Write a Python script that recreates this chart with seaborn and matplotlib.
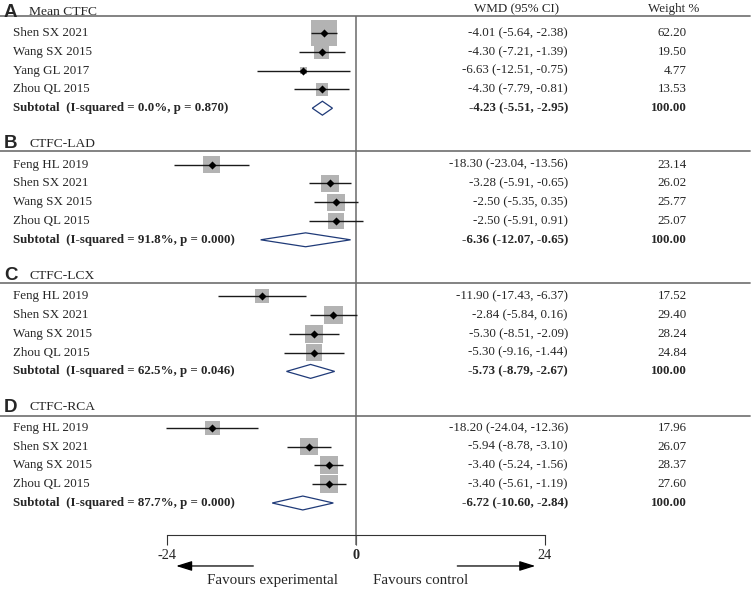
import numpy as np
import pandas as pd
import matplotlib
matplotlib.use("Agg")
import matplotlib.pyplot as plt
import seaborn as sns
from matplotlib.patches import Polygon
from matplotlib.transforms import blended_transform_factory

# ---------------- data ----------------
panel_letters = ["A", "B", "C", "D"]
panel_titles = ["Mean CTFC", "CTFC-LAD", "CTFC-LCX", "CTFC-RCA"]
study_names = [
    ["Shen SX 2021", "Wang SX 2015", "Yang GL 2017", "Zhou QL 2015"],
    ["Feng HL 2019", "Shen SX 2021", "Wang SX 2015", "Zhou QL 2015"],
    ["Feng HL 2019", "Shen SX 2021", "Wang SX 2015", "Zhou QL 2015"],
    ["Feng HL 2019", "Shen SX 2021", "Wang SX 2015", "Zhou QL 2015"],
]
wmd = [
    [-4.01, -4.30, -6.63, -4.30],
    [-18.30, -3.28, -2.50, -2.50],
    [-11.90, -2.84, -5.30, -5.30],
    [-18.20, -5.94, -3.40, -3.40],
]
ci_low = [
    [-5.64, -7.21, -12.51, -7.79],
    [-23.04, -5.91, -5.35, -5.91],
    [-17.43, -5.84, -8.51, -9.16],
    [-24.04, -8.78, -5.24, -5.61],
]
ci_high = [
    [-2.38, -1.39, -0.75, -0.81],
    [-13.56, -0.65, 0.35, 0.91],
    [-6.37, 0.16, -2.09, -1.44],
    [-12.36, -3.10, -1.56, -1.19],
]
weights = [
    [62.20, 19.50, 4.77, 13.53],
    [23.14, 26.02, 25.77, 25.07],
    [17.52, 29.40, 28.24, 24.84],
    [17.96, 26.07, 28.37, 27.60],
]
sub_wmd = [-4.23, -6.36, -5.73, -6.72]
sub_low = [-5.51, -12.07, -8.79, -10.60]
sub_high = [-2.95, -0.65, -2.67, -2.84]
i_squared = ["0.0", "91.8", "62.5", "87.7"]
p_values = ["0.870", "0.000", "0.046", "0.000"]
x_ticks = [-24, 0, 24]
x_tick_labels = ["-24", "0", "24"]

# ---------------- table ----------------
recs = []
for p in range(4):
    for i in range(4):
        recs.append(dict(panel=p, row=7 * p + 1 + i, study=study_names[p][i],
                         wmd=wmd[p][i], lo=ci_low[p][i], hi=ci_high[p][i],
                         weight=weights[p][i]))
df = pd.DataFrame(recs)
sub = pd.DataFrame(dict(panel=range(4), row=[7 * p + 5 for p in range(4)],
                        wmd=sub_wmd, lo=sub_low, hi=sub_high))

# ---------------- figure ----------------
sns.set_theme(style="white")
plt.rcParams["font.family"] = ["Liberation Serif", "DejaVu Serif"]

W, H = 754, 591
fig = plt.figure(figsize=(W / 100, H / 100), dpi=100)
ax = fig.add_axes([0, 0, 1, 1])
ax.set_facecolor("white")

x0_px, px_per_unit = 355.7, 7.875
y0_px, px_per_row = 14.2, 18.8
xlim = ((0 - x0_px) / px_per_unit, (W - x0_px) / px_per_unit)
ylim = ((H - y0_px) / px_per_row, (0 - y0_px) / px_per_row)

tb = blended_transform_factory(ax.transAxes, ax.transData)
FS = 9.4
FSB = 9.3

# weight squares
sns.scatterplot(data=df, x="wmd", y="row", size="weight", sizes=(0, 594),
                size_norm=(0, 100), marker="s", color="#b3b3b3",
                edgecolor="none", linewidth=0, legend=False, ax=ax, zorder=2)
# CI lines
ax.hlines(df["row"], df["lo"], df["hi"], color="#1a1a1a", lw=1.0, zorder=3)
# point estimates
sns.scatterplot(data=df, x="wmd", y="row", marker="D", s=17, color="black",
                edgecolor="black", linewidth=0, legend=False, ax=ax, zorder=4)

# subtotal diamonds
for _, r in sub.iterrows():
    h = 0.37
    poly = Polygon([(r.lo, r.row), (r.wmd, r.row - h), (r.hi, r.row),
                    (r.wmd, r.row + h)], closed=True, facecolor="white",
                   edgecolor="#1f3a78", lw=0.9, zorder=3)
    ax.add_patch(poly)

# separators
sep_rows = [0.12, 7.28, 14.28, 21.37]
for s in sep_rows:
    ax.axhline(s, xmin=0, xmax=750 / W, color="#7a7a7a", lw=1.3, zorder=1)

# zero line
ax.vlines(0, sep_rows[0], 28.24, color="#6a6a6a", lw=1.1, zorder=1)

# panel headings
for p in range(4):
    ty = 7 * p - 0.1
    ax.text(4 / W, ty, panel_letters[p], transform=tb, ha="left",
            va="center", fontsize=13.5, fontweight="bold",
            family=["Liberation Sans", "DejaVu Sans"])
    ax.text(29 / W, ty, panel_titles[p], transform=tb, ha="left",
            va="center", fontsize=FS + 0.3)

# column headers
ax.text(517 / W, -0.25, "WMD (95% CI)", transform=tb, ha="center",
        va="center", fontsize=FS)
ax.text(674 / W, -0.25, "Weight %", transform=tb, ha="center",
        va="center", fontsize=FS)

# study rows
for _, r in df.iterrows():
    ax.text(12.7 / W, r.row, r.study, transform=tb, ha="left", va="center",
            fontsize=FS)
    ax.text(568 / W, r.row, f"{r.wmd:.2f} ({r.lo:.2f}, {r.hi:.2f})",
            transform=tb, ha="right", va="center", fontsize=FS)
    ax.text(687 / W, r.row, f"{r.weight:.2f}", transform=tb, ha="right",
            va="center", fontsize=FS)

# subtotal rows
for p, r in sub.iterrows():
    ax.text(12.7 / W, r.row,
            f"Subtotal  (I-squared = {i_squared[p]}%, p = {p_values[p]})",
            transform=tb, ha="left", va="center", fontsize=FSB,
            fontweight="bold")
    ax.text(568 / W, r.row, f"{r.wmd:.2f} ({r.lo:.2f}, {r.hi:.2f})",
            transform=tb, ha="right", va="center", fontsize=FSB,
            fontweight="bold")
    ax.text(687 / W, r.row, "100.00", transform=tb, ha="right",
            va="center", fontsize=FSB, fontweight="bold")

# bottom axis
for sp in ["top", "left", "right"]:
    ax.spines[sp].set_visible(False)
ax.spines["bottom"].set_visible(True)
ax.spines["bottom"].set_position(("data", 27.7))
ax.spines["bottom"].set_bounds(x_ticks[0], x_ticks[-1])
ax.spines["bottom"].set_color("#333333")
ax.spines["bottom"].set_linewidth(0.8)
ax.set_xticks(x_ticks)
ax.set_xticklabels(x_tick_labels)
ax.tick_params(axis="x", direction="out", length=7.2, width=0.8,
               color="#333333", labelsize=10.3, pad=3, bottom=True)
for lbl in ax.get_xticklabels():
    if lbl.get_text() == "0":
        lbl.set_fontweight("bold")
ax.set_yticks([])
ax.set_xlabel("")
ax.set_ylabel("")

# arrows & favours labels
ay = 29.35
ap = dict(arrowstyle="-|>,head_length=0.8,head_width=0.25", color="black",
          lw=0.9, shrinkA=0, shrinkB=0)
ax.annotate("", xy=(-22.8, ay), xytext=(-13.0, ay), arrowprops=ap)
ax.annotate("", xy=(22.8, ay), xytext=(12.9, ay), arrowprops=ap)
ax.text(-10.6, 30.1, "Favours experimental", ha="center", va="center",
        fontsize=10.8)
ax.text(8.3, 30.1, "Favours control", ha="center", va="center",
        fontsize=10.8)

ax.set_xlim(*xlim)
ax.set_ylim(*ylim)

fig.savefig("out.png", dpi=100, facecolor="white")
